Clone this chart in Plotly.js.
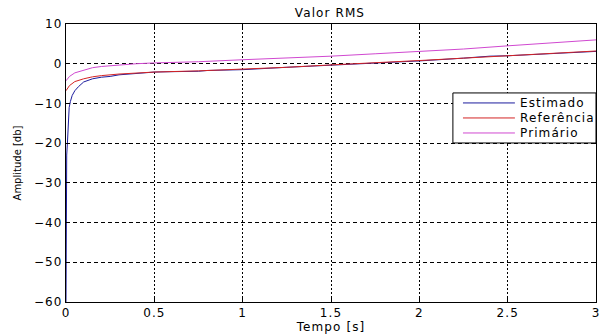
<!DOCTYPE html>
<html>
<head>
<meta charset="utf-8">
<script src="https://cdn.plot.ly/plotly-3.0.1.min.js"></script>
<style>
  html, body { margin: 0; padding: 0; background: #fff; }
  #chart { width: 601px; height: 335px; }
  /* wide, evenly spaced lettering for all chart text */
  svg text { letter-spacing: 1.1px; }
  svg text.ytitle { letter-spacing: 0px; }
</style>
</head>
<body>
<div id="chart"></div>
<script>
// RMS level of the estimated, reference and primary signals (dB) over time (s)
const tEstimado = [0, 0.002, 0.004, 0.008, 0.012, 0.018, 0.025, 0.035, 0.05, 0.07, 0.1, 0.15, 0.2, 0.25, 0.3, 0.4, 0.5, 0.6, 0.7, 0.75, 0.8, 1.0, 1.25, 1.5, 1.75, 2.0, 2.25, 2.4, 2.5, 2.75, 3.0];
const vEstimado = [-60, -33, -23, -20, -16, -11, -9.5, -8, -6.8, -5.8, -4.6, -3.8, -3.4, -3.2, -2.8, -2.4, -2.1, -2.0, -2.0, -1.9, -1.7, -1.5, -0.9, -0.4, 0.1, 0.7, 1.4, 1.9, 2.0, 2.6, 3.1];

const tReferencia = [0, 0.02, 0.05, 0.1, 0.15, 0.2, 0.3, 0.4, 0.5, 0.75, 1.0, 1.25, 1.5, 1.75, 2.0, 2.25, 2.5, 2.75, 3.0];
const vReferencia = [-6.8, -5.5, -4.5, -3.8, -3.3, -3.0, -2.6, -2.3, -2.1, -1.8, -1.4, -0.9, -0.3, 0.2, 0.8, 1.4, 2.0, 2.6, 3.2];

const tPrimario = [0, 0.02, 0.05, 0.1, 0.15, 0.2, 0.3, 0.4, 0.5, 0.75, 1.0, 1.25, 1.5, 1.75, 2.0, 2.25, 2.5, 2.75, 3.0];
const vPrimario = [-4.3, -3.2, -2.3, -1.6, -1.0, -0.7, -0.3, 0.0, 0.2, 0.5, 1.0, 1.4, 1.9, 2.5, 3.1, 3.7, 4.5, 5.3, 6.0];

const seriesNames = ['Estimado', 'Referência', 'Primário'];
const seriesColors = ['#1c1c9e', '#d42424', '#d048d0'];

const xTicks = [0, 0.5, 1, 1.5, 2, 2.5, 3];
const xTickText = ['0', '0.5', '1', '1.5', '2', '2.5', '3'];
const yTicks = [-60, -50, -40, -30, -20, -10, 0, 10];

const font = 'DejaVu Sans, Verdana, sans-serif';

const traces = [
  { x: tEstimado, y: vEstimado },
  { x: tReferencia, y: vReferencia },
  { x: tPrimario, y: vPrimario }
].map((s, i) => ({
  x: s.x, y: s.y, name: seriesNames[i], mode: 'lines',
  line: { color: seriesColors[i], width: 1 }, showlegend: false
}));

const axisCommon = {
  showline: true, linecolor: '#000', linewidth: 1, mirror: 'ticks',
  ticks: 'inside', ticklen: 4, tickcolor: '#000',
  showgrid: true, gridcolor: '#000', gridwidth: 1,
  zeroline: false, tickfont: { family: font, size: 12, color: '#000' }
};

// Boxed key in the upper right of the axes, MATLAB style
const key = { x0: 0.730, x1: 1.0, y0: 0.572, y1: 0.752,
              lineX0: 0.749, lineX1: 0.847, textX: 0.853,
              rowY: [0.716, 0.662, 0.608] };

const shapes = [{
  type: 'rect', xref: 'paper', yref: 'paper', layer: 'above',
  x0: key.x0, x1: key.x1, y0: key.y0, y1: key.y1,
  fillcolor: '#fff', line: { color: '#000', width: 1 }
}].concat(seriesNames.map((n, i) => ({
  type: 'line', xref: 'paper', yref: 'paper', layer: 'above',
  x0: key.lineX0, x1: key.lineX1, y0: key.rowY[i], y1: key.rowY[i],
  line: { color: seriesColors[i], width: 1 }
})));

const annotations = seriesNames.map((n, i) => ({
  xref: 'paper', yref: 'paper', x: key.textX, y: key.rowY[i],
  xanchor: 'left', yanchor: 'middle', showarrow: false, text: n,
  font: { family: font, size: 12, color: '#000' }
}));

const layout = {
  width: 601, height: 335,
  margin: { l: 66, r: 5, t: 24, b: 33 },
  paper_bgcolor: '#fff', plot_bgcolor: '#fff',
  title: { text: 'Valor RMS', font: { family: font, size: 12, color: '#000' },
           x: 0.549, xanchor: 'center', y: 0.962, yanchor: 'middle' },
  xaxis: Object.assign({}, axisCommon, {
    range: [0, 3], tickvals: xTicks, ticktext: xTickText,
    griddash: '2px,2px',
    title: { text: 'Tempo [s]', font: { family: font, size: 12, color: '#000' }, standoff: 0 }
  }),
  yaxis: Object.assign({}, axisCommon, {
    range: [-60, 10], tickvals: yTicks,
    griddash: '4px,3px',
    title: { text: 'Amplitude [db]', font: { family: font, size: 10, color: '#000' }, standoff: 10 }
  }),
  shapes: shapes,
  annotations: annotations,
  showlegend: false
};

Plotly.newPlot('chart', traces, layout, { staticPlot: true, displayModeBar: false });
</script>
</body>
</html>
